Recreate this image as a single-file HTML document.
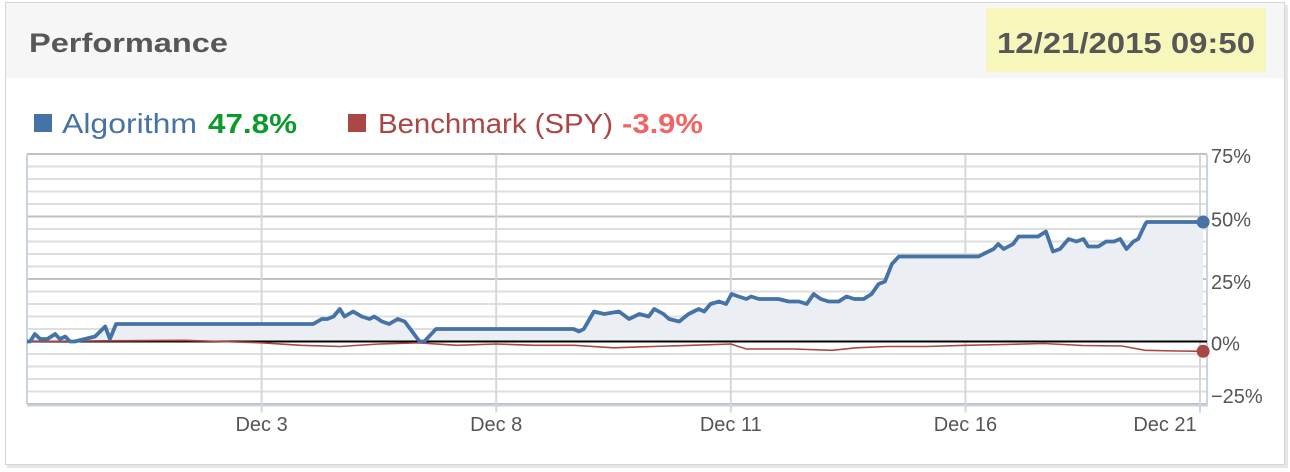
<!DOCTYPE html>
<html><head><meta charset="utf-8"><style>
html,body{margin:0;padding:0;background:#fff;width:1290px;height:472px;overflow:hidden}
svg text{font-family:"Liberation Sans",sans-serif}
</style></head><body>
<svg width="1290" height="472" viewBox="0 0 1290 472">
<rect x="0" y="0" width="1290" height="472" fill="#fff"/>
<rect x="7" y="5" width="1281" height="463" fill="#e6e6e6"/>
<rect x="5.5" y="2.5" width="1279" height="462" fill="#fff" stroke="#d6d6d6"/>
<rect x="6" y="3" width="1278" height="75" fill="#f6f6f6"/>
<text x="29" y="52" font-size="27" font-weight="bold" fill="#575757" textLength="199" lengthAdjust="spacingAndGlyphs">Performance</text>
<rect x="986" y="8" width="280" height="64" fill="#f7f7bc"/>
<text x="997" y="53" font-size="29" font-weight="bold" fill="#575757" textLength="258" lengthAdjust="spacingAndGlyphs">12/21/2015 09:50</text>
<g>
<rect x="34" y="114" width="18" height="18" fill="#4572a7"/>
<text x="62" y="133" font-size="28" fill="#4572a7" textLength="135" lengthAdjust="spacingAndGlyphs">Algorithm</text>
<text x="208" y="133" font-size="28" font-weight="bold" fill="#0c9a2e" textLength="89" lengthAdjust="spacingAndGlyphs">47.8%</text>
<rect x="348" y="114" width="18" height="18" fill="#aa4643"/>
<text x="378" y="133" font-size="28" fill="#aa4643" textLength="235" lengthAdjust="spacingAndGlyphs">Benchmark (SPY)</text>
<text x="622" y="133" font-size="28" font-weight="bold" fill="#f26464" textLength="81" lengthAdjust="spacingAndGlyphs">-3.9%</text>
</g>
<g id="chart"></g>
</svg>
<script>
const algoDays=[0,0.04,0.10,0.17,0.26,0.36,0.42,0.49,0.55,0.61,0.74,0.87,1.00,1.06,1.14,3.66,3.77,3.84,3.92,4.00,4.06,4.17,4.28,4.38,4.44,4.54,4.63,4.74,4.83,5.02,5.08,5.23,6.99,7.06,7.12,7.25,7.38,7.57,7.70,7.83,7.95,8.02,8.14,8.21,8.34,8.46,8.59,8.66,8.74,8.85,8.94,9.01,9.10,9.20,9.26,9.36,9.49,9.61,9.74,9.87,9.97,10.06,10.15,10.25,10.38,10.48,10.58,10.70,10.80,10.89,10.97,11.06,11.15,12.17,12.23,12.36,12.42,12.49,12.61,12.68,12.93,13.03,13.12,13.21,13.32,13.42,13.51,13.57,13.70,13.80,13.90,13.98,14.06,14.15,14.21,14.30,14.32,15.04];
const algoValues=[0,0,3,1,1,3,1,2,0,0,1,2,6,1,7,7,9,9,10,13,10,12,10,9,10,8,7,9,8,0,0,5,5,4,5,12,11,12,9,11,10,13,11,9,8,11,13,12,15,16,15,19,18,17,18,17,17,17,16,16,15,19,17,16,16,18,17,17,19,23,24,31,34,34,35,37,39,37,39,42,42,44,36,37,41,40,41,38,38,40,40,41,37,40,41,47,47.8,47.8];
const benchDays=[0,1,2,3,3.5,4,4.5,5,5.5,6,6.5,7,7.5,8,8.5,9,9.2,9.8,10.3,10.6,11,11.5,12,12.5,13,13.5,14,14.3,14.7,15.04];
const benchValues=[0,0.3,0.5,-0.5,-1.5,-2,-1,-0.5,-1.5,-1,-1.5,-1.5,-2.5,-2,-1.5,-1,-3,-3,-3.5,-2.5,-2,-2,-1.5,-1.2,-0.8,-1.6,-1.8,-3.5,-3.8,-3.9];
const xTickDays=[3,6,9,12,15];
const xTickLabels=["Dec 3","Dec 8","Dec 11","Dec 16","Dec 21"];
const yTicks=[75,50,25,0,-25];
const yTickLabels=["75%","50%","25%","0%","\u221225%"];

const NS="http://www.w3.org/2000/svg";
const g=document.getElementById('chart');
const L=27,R=1207,T=154.5,B=404.5,dayPx=78.2;
const X=d=>L+d*dayPx;
const Y=v=>341.5-v*2.5;
function mk(tag,attrs){const e=document.createElementNS(NS,tag);for(const k in attrs)e.setAttribute(k,attrs[k]);g.appendChild(e);return e;}
for(let v=75;v>=-25;v-=5){
  const major=v%25===0;
  const ln=mk('line',{x1:L,x2:R,y1:Y(v),y2:Y(v),stroke:major?'#c0c0c0':'#dedede','stroke-width':2});
  
  
}
xTickDays.forEach((d,i)=>{
  const ln=mk('line',{x1:X(d),x2:X(d),y1:T,y2:B+8,stroke:'#d4d7dc','stroke-width':2});
  
  
  const tx=Math.min(X(d),1165);
  const t=mk('text',{x:tx,y:431,'font-size':20,fill:'#555','text-anchor':'middle'});
  t.textContent=xTickLabels[i];
  
  
});
let ax=mk('line',{x1:L,x2:L,y1:T,y2:B,stroke:'#c8d3e3','stroke-width':2});


ax=mk('line',{x1:R,x2:R,y1:T,y2:B+2,stroke:'#c8d3e3','stroke-width':2});


ax=mk('line',{x1:L,x2:R,y1:B+1,y2:B+1,stroke:'#c8d3e3','stroke-width':2});


yTicks.forEach((v,i)=>{
  const t=mk('text',{x:1211,y:Y(v)+(v===75?9:v===-25?-1:v===0?9:10),'font-size':20,fill:'#555'});
  t.textContent=yTickLabels[i];
  
  
});
const apts=algoDays.map((d,i)=>X(d).toFixed(1)+','+Y(algoValues[i]).toFixed(1));
const area=mk('path',{d:'M'+X(algoDays[0])+','+Y(0)+' L'+apts.join(' L')+' L'+X(algoDays[algoDays.length-1])+','+Y(0)+' Z',fill:'#ebeef3'});


const zl=mk('line',{x1:L,x2:R,y1:Y(0),y2:Y(0),stroke:'#000','stroke-width':2});


const bl=mk('polyline',{points:benchDays.map((d,i)=>X(d).toFixed(1)+','+Y(benchValues[i]).toFixed(1)).join(' '),fill:'none',stroke:'#aa4643','stroke-width':1.6});


const al=mk('polyline',{points:apts.join(' '),fill:'none',stroke:'#4572a7','stroke-width':3.8,'stroke-linejoin':'round'});


const ae=mk('circle',{cx:X(algoDays[algoDays.length-1]),cy:Y(algoValues[algoValues.length-1]),r:6.5,fill:'#4572a7'});


const be=mk('circle',{cx:X(benchDays[benchDays.length-1]),cy:Y(benchValues[benchValues.length-1]),r:6.5,fill:'#aa4643'});


</script>
</body></html>
